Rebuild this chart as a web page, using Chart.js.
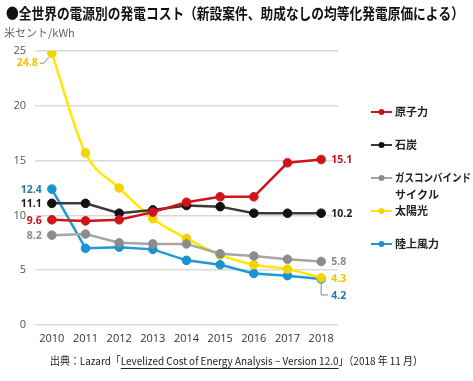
<!DOCTYPE html>
<html><head><meta charset="utf-8">
<script src="https://cdn.jsdelivr.net/npm/chart.js@4"></script>
<style>html,body{margin:0;padding:0;background:#fff;}#wrap{width:473px;height:381px;position:relative;}</style>
</head><body><div id="wrap"><canvas id="c" width="473" height="381"></canvas></div>
<script>
const categories = ['2010','2011','2012','2013','2014','2015','2016','2017','2018'];
const nuclear = [9.6, 9.5, 9.6, 10.3, 11.2, 11.7, 11.7, 14.8, 15.1];
const coal = [11.1, 11.1, 10.2, 10.5, 10.9, 10.8, 10.2, 10.2, 10.2];
const gasCC = [8.2, 8.3, 7.5, 7.4, 7.4, 6.5, 6.3, 6.0, 5.8];
const solar = [24.8, 15.7, 12.5, 9.7, 7.9, 6.4, 5.5, 5.1, 4.3];
const onshoreWind = [12.4, 7.0, 7.1, 6.9, 5.9, 5.5, 4.7, 4.5, 4.2];
const seriesNames = ['原子力', '石炭', 'ガスコンバインドサイクル', '太陽光', '陸上風力'];
const legendLines = [['原子力'], ['石炭'], ['ガスコンバインド', 'サイクル'], ['太陽光'], ['陸上風力']];
const yTicks = [0, 5, 10, 15, 20, 25];
const titleText = '●全世界の電源別の発電コスト（新設案件、助成なしの均等化発電原価による）';
const unitText = '米セント/kWh';
const sourcePre = '出典：Lazard「';
const sourceMid = 'Levelized Cost of Energy Analysis – Version 12.0';
const sourcePost = '」（2018 年 11 月）';

const colors = ['#D0141C', '#3A3A3A', '#A6A6A6', '#FFE800', '#1E9AD6'];
const pointColors = ['#D0141C', '#111111', '#8C8C8C', '#F2D400', '#1A93CF'];
const labelColors = ['#C0141C', '#1A1A1A', '#8A8A8A', '#F0C400', '#2478B0'];
const seriesData = [nuclear, coal, gasCC, solar, onshoreWind];

const datasets = seriesData.map((d, i) => ({
  label: seriesNames[i],
  data: d,
  borderColor: colors[i],
  backgroundColor: pointColors[i],
  pointBackgroundColor: pointColors[i],
  pointBorderColor: pointColors[i],
  pointRadius: 4.3,
  pointBorderWidth: 1,
  borderWidth: 2.5,
  cubicInterpolationMode: i === 3 ? 'monotone' : 'default',
  tension: 0
}));

const FONT = "'Open Sans', 'Noto Sans CJK JP', sans-serif";
const JFONT = "'Noto Sans CJK JP', sans-serif";

const decor = {
  id: 'decor',
  afterDraw(chart) {
    const ctx = chart.ctx;
    ctx.save();
    // title
    ctx.fillStyle = '#111';
    ctx.font = "bold 15px " + JFONT;
    ctx.textBaseline = 'middle';
    ctx.textAlign = 'left';
    ctx.fillText(titleText, 6, 13, 458);
    // unit
    ctx.fillStyle = '#666';
    ctx.font = "11px " + JFONT;
    ctx.fillText(unitText, 4, 33);
    // source
    ctx.font = "11px " + JFONT;
    ctx.fillStyle = '#222';
    const wPre = ctx.measureText(sourcePre).width;
    const wMid = ctx.measureText(sourceMid).width;
    const wPost = ctx.measureText(sourcePost).width;
    const total = wPre + wMid + wPost;
    const target = 373;
    const sc = target / total;
    const x0 = 50, ys = 361;
    ctx.save();
    ctx.translate(x0, ys);
    ctx.scale(sc, 1);
    ctx.fillText(sourcePre, 0, 0);
    ctx.fillText(sourceMid, wPre, 0);
    ctx.fillText(sourcePost, wPre + wMid, 0);
    ctx.restore();
    ctx.strokeStyle = '#222';
    ctx.lineWidth = 1;
    ctx.beginPath();
    ctx.moveTo(x0 + wPre * sc, ys + 7.5);
    ctx.lineTo(x0 + (wPre + wMid) * sc, ys + 7.5);
    ctx.stroke();

    // legend
    const lx0 = 371, lx1 = 392, ly0 = 112, step = 33;
    ctx.font = "bold 11px " + JFONT;
    chart.data.datasets.forEach((ds, i) => {
      const y = ly0 + i * step;
      ctx.strokeStyle = ds.borderColor;
      ctx.lineWidth = 2;
      ctx.beginPath(); ctx.moveTo(lx0, y); ctx.lineTo(lx1, y); ctx.stroke();
      ctx.fillStyle = ds.pointBackgroundColor;
      ctx.beginPath(); ctx.arc((lx0 + lx1) / 2, y, 3, 0, Math.PI * 2); ctx.fill();
      ctx.fillStyle = '#222';
      legendLines[i].forEach((t, k) => ctx.fillText(t, 395, y + k * 17, 76));
    });

    // data labels
    ctx.font = "bold 10.5px " + FONT;
    chart.data.datasets.forEach((ds, i) => {
      const meta = chart.getDatasetMeta(i);
      const first = meta.data[0], last = meta.data[meta.data.length - 1];
      const v0 = ds.data[0], v1 = ds.data[ds.data.length - 1];
      ctx.fillStyle = labelColors[i];
      // left label
      ctx.textAlign = 'right';
      if (i === 3) {
        ctx.fillText(v0.toFixed(1), first.x - 14, first.y + 10);
        ctx.strokeStyle = '#888'; ctx.lineWidth = 1;
        ctx.beginPath();
        ctx.moveTo(first.x - 12, first.y + 10);
        ctx.lineTo(first.x - 8, first.y + 10);
        ctx.lineTo(first.x - 3, first.y + 4);
        ctx.stroke();
      } else {
        ctx.fillText(v0.toFixed(1), first.x - 10, first.y + 1);
      }
      // right label
      ctx.textAlign = 'left';
      if (i === 4) {
        ctx.fillText(v1.toFixed(1), last.x + 10, last.y + 17);
        ctx.strokeStyle = '#888'; ctx.lineWidth = 1;
        ctx.beginPath();
        ctx.moveTo(last.x, last.y + 5);
        ctx.lineTo(last.x, last.y + 16);
        ctx.lineTo(last.x + 7, last.y + 16);
        ctx.stroke();
      } else {
        ctx.fillText(v1.toFixed(1), last.x + 10, last.y + 1);
      }
    });
    ctx.restore();
  }
};

new Chart(document.getElementById('c'), {
  type: 'line',
  data: { labels: categories, datasets },
  options: {
    responsive: false,
    devicePixelRatio: 1,
    animation: false,
    layout: { padding: { top: 51, left: 0, right: 135, bottom: 0 } },
    plugins: { legend: { display: false }, tooltip: { enabled: false }, title: { display: false } },
    scales: {
      x: {
        offset: true,
        grid: { display: false, drawTicks: false },
        border: { display: false },
        ticks: { color: '#333', font: { size: 11, family: FONT }, padding: 7, maxRotation: 0 },
        afterFit(s) { s.height = 56; }
      },
      y: {
        min: 0, max: 25,
        afterBuildTicks(s) { s.ticks = yTicks.map(v => ({ value: v })); },
        grid: { color: '#D9D9D9', lineWidth: 1.5, drawTicks: false },
        border: { display: false },
        ticks: { color: '#555', font: { size: 11, family: FONT }, padding: 9 },
        afterFit(s) { s.width = 35; }
      }
    }
  },
  plugins: [decor]
});
</script>
</body></html>
